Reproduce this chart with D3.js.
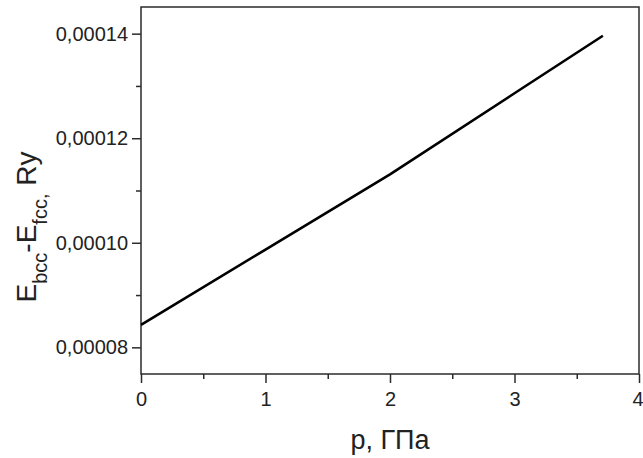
<!DOCTYPE html>
<html>
<head>
<meta charset="utf-8">
<script src="https://cdn.jsdelivr.net/npm/d3@7"></script>
<style>
  html, body { margin: 0; padding: 0; background: #fff; }
  svg { display: block; font-family: "Liberation Sans", Arial, sans-serif; }
</style>
</head>
<body>
<svg id="chart" width="643" height="458"></svg>
<script>
// Pressure, GPa
const pressure = [0, 1, 2, 3, 3.71];
// Energy difference E_bcc - E_fcc, Ry
const energyDiff = [0.0000843, 0.0000987, 0.0001131, 0.0001286, 0.0001396];

const xTicks = [0, 1, 2, 3, 4];
const xMinorTicks = [0.5, 1.5, 2.5, 3.5];
const yTicks = [0.00008, 0.00010, 0.00012, 0.00014];
const yMinorTicks = [0.00009, 0.00011, 0.00013];

const svg = d3.select("#chart");
const plot = { left: 141, right: 639, top: 7, bottom: 374 };
const frameColor = "#2b2b2b";

const x = d3.scaleLinear().domain([0, 4]).range([plot.left, plot.right]);
const y = d3.scaleLinear().domain([0.0000749, 0.0001451]).range([plot.bottom, plot.top]);

const fmt = v => d3.format(".5f")(v).replace(".", ",");

// x axis: major and minor ticks
const gx = svg.append("g").attr("transform", `translate(0,${plot.bottom})`);
gx.call(d3.axisBottom(x).tickValues(xTicks).tickSize(9).tickPadding(9).tickFormat(d3.format("d")));
gx.append("g").call(d3.axisBottom(x).tickValues(xMinorTicks).tickSize(5).tickFormat(""));

// y axis: major and minor ticks
const gy = svg.append("g").attr("transform", `translate(${plot.left},0)`);
gy.call(d3.axisLeft(y).tickValues(yTicks).tickSize(9).tickPadding(4).tickFormat(fmt));
gy.append("g").call(d3.axisLeft(y).tickValues(yMinorTicks).tickSize(5).tickFormat(""));

svg.selectAll(".domain").remove();
svg.selectAll(".tick line").attr("stroke", frameColor).attr("stroke-width", 1.5);
svg.selectAll(".tick text")
  .attr("font-family", "'Liberation Sans', Arial, sans-serif")
  .attr("font-size", 20)
  .attr("fill", "#222");

// the last x label sits at the window edge: keep it inside
gx.selectAll(".tick text").filter(d => d === 4)
  .attr("text-anchor", "end")
  .attr("x", 643 - plot.right);

// frame
svg.append("rect")
  .attr("x", plot.left).attr("y", plot.top)
  .attr("width", plot.right - plot.left).attr("height", plot.bottom - plot.top)
  .attr("fill", "none").attr("stroke", frameColor).attr("stroke-width", 1.5);

// curve
const data = pressure.map((p, i) => ({ p, e: energyDiff[i] }));
svg.append("path")
  .datum(data)
  .attr("fill", "none")
  .attr("stroke", "#000")
  .attr("stroke-width", 2.6)
  .attr("stroke-linejoin", "round")
  .attr("d", d3.line().x(d => x(d.p)).y(d => y(d.e)));

// axis titles
svg.append("text")
  .attr("x", (plot.left + plot.right) / 2)
  .attr("y", 449)
  .attr("text-anchor", "middle")
  .attr("font-size", 27)
  .attr("fill", "#222")
  .text("p, ГПа");

const yt = svg.append("text")
  .attr("transform", "translate(36,227) rotate(-90)")
  .attr("text-anchor", "middle")
  .attr("font-size", 28)
  .attr("fill", "#222");
yt.append("tspan").text("E");
yt.append("tspan").attr("font-size", 20).attr("dy", 11).text("bcc");
yt.append("tspan").attr("dy", -11).text("-E");
yt.append("tspan").attr("font-size", 20).attr("dy", 11).text("fcc,");
yt.append("tspan").attr("dy", -11).text(" Ry");
</script>
</body>
</html>
